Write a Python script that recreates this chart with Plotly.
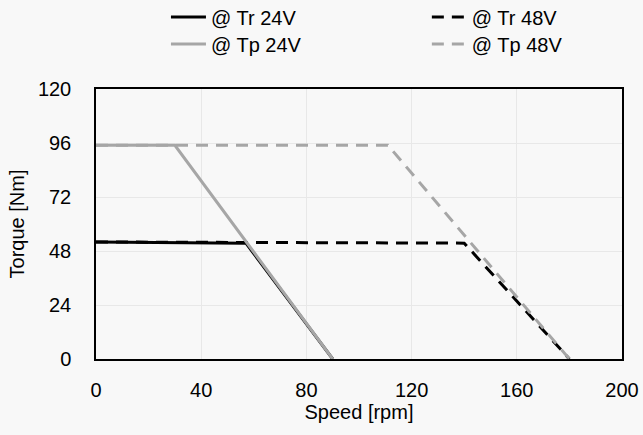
import plotly.graph_objects as go

# Data
speed_tr24 = [0, 57, 90]
torque_tr24 = [52, 51.5, 0]
speed_tr48 = [0, 140, 180]
torque_tr48 = [52, 51.5, 0]
speed_tp24 = [0, 30, 90]
torque_tp24 = [95, 95, 0]
speed_tp48 = [0, 111, 180]
torque_tp48 = [95, 95, 0]

x_ticks = [0, 40, 80, 120, 160, 200]
y_ticks = [0, 24, 48, 72, 96, 120]

BLACK = "#000000"
GRAY = "#a6a6a6"
DASH = "12px,8px"
FONT = "Liberation Sans, Arial, sans-serif"
FS = 20

fig = go.Figure()
fig.add_trace(go.Scatter(x=speed_tr24, y=torque_tr24, mode="lines", name="@ Tr 24V",
                         line=dict(color=BLACK, width=3), legend="legend"))
fig.add_trace(go.Scatter(x=speed_tr48, y=torque_tr48, mode="lines", name="@ Tr 48V",
                         line=dict(color=BLACK, width=3, dash=DASH), legend="legend2"))
fig.add_trace(go.Scatter(x=speed_tp24, y=torque_tp24, mode="lines", name="@ Tp 24V",
                         line=dict(color=GRAY, width=3), legend="legend3"))
fig.add_trace(go.Scatter(x=speed_tp48, y=torque_tp48, mode="lines", name="@ Tp 48V",
                         line=dict(color=GRAY, width=3, dash=DASH), legend="legend4"))

lc = dict(orientation="v", bgcolor="rgba(0,0,0,0)", font=dict(size=FS, color="#000", family=FONT),
          yanchor="middle", xanchor="left", tracegroupgap=0, itemwidth=35)

fig.update_layout(
    width=643, height=435,
    margin=dict(l=96, r=21, t=89, b=76, autoexpand=False),
    paper_bgcolor="#f8f8f8", plot_bgcolor="#f8f8f8",
    font=dict(family=FONT, size=FS, color="#000"),
    showlegend=True,
    legend=dict(x=0.133, y=1.267, **lc),
    legend2=dict(x=0.629, y=1.267, **lc),
    legend3=dict(x=0.133, y=1.167, **lc),
    legend4=dict(x=0.629, y=1.167, **lc),
    xaxis=dict(range=[0, 200], tickvals=x_ticks, showgrid=True, gridcolor="#e8e8e8", gridwidth=1,
               showline=True, linecolor="#000", linewidth=1.5, mirror=True, zeroline=False,
               ticks="", tickfont=dict(size=FS), ticklabelstandoff=12,
               title=dict(text="Speed [rpm]", font=dict(size=FS), standoff=4)),
    yaxis=dict(range=[0, 120], tickvals=y_ticks, showgrid=True, gridcolor="#e8e8e8", gridwidth=1,
               showline=True, linecolor="#000", linewidth=1.5, mirror=True, zeroline=False,
               ticks="", tickfont=dict(size=FS), ticklabelstandoff=19,
               title=dict(text="Torque [Nm]", font=dict(size=FS), standoff=8)),
)

fig.write_html("out.html")
